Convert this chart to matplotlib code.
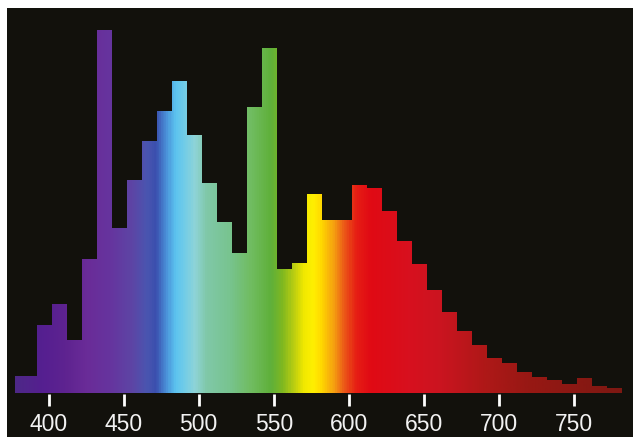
import numpy as np
import matplotlib
matplotlib.use("Agg")
import matplotlib.pyplot as plt
from matplotlib.colors import LinearSegmentedColormap
from matplotlib.patches import Rectangle, PathPatch
from matplotlib.path import Path

# wavelength bins (nm): first bin is wider, then 10 nm bins
bin_left = [377.5] + list(np.arange(392.5, 780, 10))
bin_width = [15] + [10] * 39
intensity = [17.3, 69, 89.7, 54, 134.7, 363.7, 165.7, 213.7, 252.3, 282.3,
             313, 259, 211, 171.3, 140.7, 287, 345.7, 124.7, 130.7, 199.7,
             173.7, 173.7, 209, 205.7, 183, 152.3, 129.7, 103.7, 81.3, 63,
             49, 35.7, 30.3, 22, 16.3, 13.7, 9.7, 15.3, 8, 5.7]
ticks = [400, 450, 500, 550, 600, 650, 700, 750]

# spectrum colours
spec_wl = [372, 378, 395, 410, 425, 440, 455, 465, 471, 478, 484, 490, 497,
           505, 520, 535, 548, 556, 564, 570, 576, 582, 590, 597, 605, 615,
           640, 660, 690, 720, 790]
spec_col = ["#4a2a80", "#4e2888", "#551f90", "#5e2390", "#6a2c98", "#66349e",
            "#5d45a5", "#4a55b0", "#3a4fae", "#4a90d8", "#5cc4f0", "#70cce8",
            "#8fd4d8", "#80c8a8", "#78c490", "#70bc60", "#5fb03a", "#80b820",
            "#c0d010", "#f0e800", "#fff000", "#ffd800", "#f5a010", "#ec5a18",
            "#e61e14", "#e00a14", "#d8101e", "#cc1420", "#b01818", "#981814",
            "#7a1812"]

bg = "#12110c"
W, H = 633, 437
x0, x1 = 372.2, 789.5
base = 43.5  # px from bottom

fig = plt.figure(figsize=(W / 100, H / 100), dpi=100)
fig.patch.set_facecolor("white")
fig.patches.append(Rectangle((7 / W, 0), 626 / W, 429 / H, transform=fig.transFigure,
                             facecolor=bg, edgecolor="none", zorder=-10))

ax = fig.add_axes([7 / W, base / H, 626 / W, (429 - base) / H])
ax.set_zorder(5)
ax.set_facecolor(bg)
ax.set_xlim(x0, x1)
ax.set_ylim(0, 429 - base)

bars = ax.bar(bin_left, intensity, width=bin_width, align="edge",
              facecolor="none", edgecolor="none")

pos = [(w - x0) / (x1 - x0) for w in spec_wl]
pos[0], pos[-1] = 0.0, 1.0
cmap = LinearSegmentedColormap.from_list("spec", list(zip(pos, spec_col)))
grad = np.linspace(0, 1, 800).reshape(1, -1)
im = ax.imshow(grad, cmap=cmap, aspect="auto", extent=[x0, x1, 0, 400],
               interpolation="bilinear")

paths = [b.get_path().transformed(b.get_patch_transform()) for b in bars]
clip = PathPatch(Path.make_compound_path(*paths), transform=ax.transData,
                 facecolor="none", edgecolor="none")
ax.add_patch(clip)
im.set_clip_path(clip)

for s in ax.spines.values():
    s.set_visible(False)
ax.set_yticks([])
ax.set_xticks(ticks)
ax.set_xticklabels([str(t) for t in ticks])
ax.tick_params(axis="x", colors="white", length=8.5, width=2, pad=5.5,
               labelsize=16.5)
for lab in ax.get_xticklabels():
    lab.set_family(["Liberation Sans Narrow", "Liberation Sans", "DejaVu Sans"])
    lab.set_color("#f2f2f2")

fig.savefig("out.png", dpi=100, facecolor=fig.get_facecolor())
